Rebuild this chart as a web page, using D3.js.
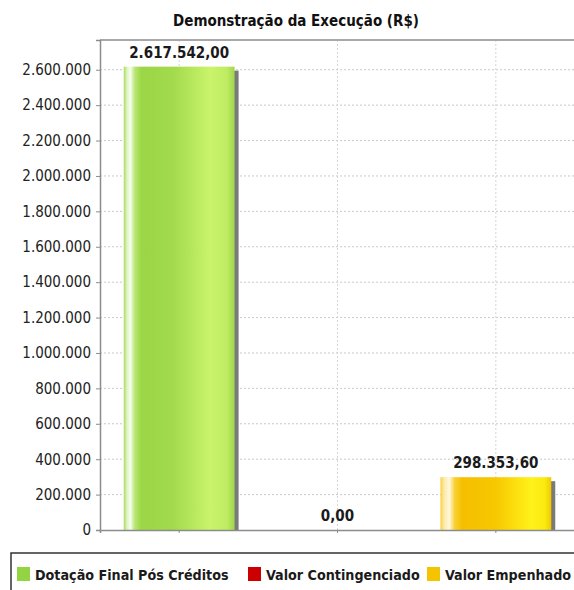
<!DOCTYPE html>
<html lang="pt">
<head>
<meta charset="UTF-8">
<title>Demonstração da Execução</title>
<script src="https://d3js.org/d3.v7.min.js"></script>
<style>
  html, body { margin: 0; background: #fff; }
  svg { display: block; font-family: "DejaVu Sans Condensed", "DejaVu Sans", sans-serif; }
</style>
</head>
<body>
<div id="vis"></div>
<script>
// data
var categories = ["Dotação Final Pós Créditos", "Valor Contingenciado", "Valor Empenhado"];
var values = [2617542.00, 0.00, 298353.60];
var tickValues = [0, 200000, 400000, 600000, 800000, 1000000, 1200000, 1400000,
                  1600000, 1800000, 2000000, 2200000, 2400000, 2600000];
var seriesColors = ["#93d443", "#cc0000", "#f5c400"];

var W = 574, H = 590;
var plot = {left: 100, right: 575, top: 40, bottom: 530};

var br = d3.formatLocale({decimal: ",", thousands: ".", grouping: [3], currency: ["R$", ""]});
var fmtTick = br.format(",.0f");
var fmtVal = br.format(",.2f");

var svg = d3.select("#vis").append("svg")
    .attr("width", W).attr("height", H);

svg.append("rect").attr("width", W).attr("height", H).attr("fill", "#fff");

// gradients (JFreeChart style)
var defs = svg.append("defs");
var gradStops = [
  [[0, "#a9dc5c"], [0.03, "#dff5c4"], [0.06, "#f6fdee"], [0.10, "#b9e672"], [0.16, "#9bd645"],
   [0.45, "#a3da4e"], [0.78, "#c9f46c"], [0.93, "#bfec62"], [1, "#a0d64c"]],
  [[0, "#d83030"], [0.06, "#f8d0d0"], [0.16, "#cc0000"], [0.8, "#ee2020"], [1, "#cc0000"]],
  [[0, "#f8d040"], [0.03, "#fbe9a0"], [0.08, "#fff8e0"], [0.13, "#f8d030"], [0.2, "#f5bf00"],
   [0.5, "#f7c800"], [0.82, "#fff21a"], [0.94, "#faea10"], [1, "#f2c800"]]
];
gradStops.forEach(function(stops, i) {
  var g = defs.append("linearGradient").attr("id", "grad" + i)
      .attr("x1", "0%").attr("x2", "100%").attr("y1", "0%").attr("y2", "0%");
  stops.forEach(function(s) {
    g.append("stop").attr("offset", s[0]).attr("stop-color", s[1]);
  });
});

var x = d3.scaleBand()
    .domain(categories)
    .range([plot.left, plot.right])
    .paddingInner(0.3)
    .paddingOuter(0.15);

var y = d3.scaleLinear()
    .domain([0, 2768000])
    .range([plot.bottom, plot.top]);

// horizontal gridlines
svg.append("g").selectAll("line")
    .data(tickValues.filter(function(d) { return d > 0; }))
    .enter().append("line")
    .attr("x1", plot.left).attr("x2", plot.right)
    .attr("y1", function(d) { return y(d); }).attr("y2", function(d) { return y(d); })
    .attr("stroke", "#c8c8c8").attr("stroke-width", 1)
    .attr("stroke-dasharray", "2,2");

// vertical category gridlines
svg.append("g").selectAll("line")
    .data(categories)
    .enter().append("line")
    .attr("x1", function(d) { return x(d) + x.bandwidth() / 2; })
    .attr("x2", function(d) { return x(d) + x.bandwidth() / 2; })
    .attr("y1", plot.top).attr("y2", plot.bottom)
    .attr("stroke", "#d4d4d4").attr("stroke-width", 1)
    .attr("stroke-dasharray", "2,2");

// plot top outline
svg.append("line")
    .attr("x1", plot.left).attr("x2", plot.right)
    .attr("y1", plot.top).attr("y2", plot.top)
    .attr("stroke", "#a8a8a8").attr("stroke-width", 2);

// bar shadows
svg.append("g").selectAll("rect")
    .data(values)
    .enter().append("rect")
    .attr("x", function(d, i) { return x(categories[i]) + 4; })
    .attr("y", function(d) { return Math.min(y(d) + 4, plot.bottom); })
    .attr("width", x.bandwidth())
    .attr("height", function(d) { return Math.max(0, plot.bottom - y(d) - 4); })
    .attr("fill", "#7a7a7a");

// bars
svg.append("g").selectAll("rect")
    .data(values)
    .enter().append("rect")
    .attr("x", function(d, i) { return x(categories[i]); })
    .attr("y", function(d) { return y(d); })
    .attr("width", x.bandwidth())
    .attr("height", function(d) { return plot.bottom - y(d); })
    .attr("fill", function(d, i) { return "url(#grad" + i + ")"; });

// y axis
var yAxis = svg.append("g")
    .attr("transform", "translate(" + plot.left + ",0)")
    .call(d3.axisLeft(y).tickValues(tickValues).tickFormat(fmtTick).tickSize(4).tickPadding(5));
yAxis.select(".domain").attr("stroke", "#8c8c8c").attr("stroke-width", 1.5);
yAxis.selectAll(".tick line").attr("stroke", "#8c8c8c");
yAxis.selectAll(".tick text")
    .attr("font-family", "DejaVu Sans Condensed")
    .attr("font-size", 15).attr("fill", "#222");

// x axis (no labels)
var xAxis = svg.append("g")
    .attr("transform", "translate(0," + plot.bottom + ")")
    .call(d3.axisBottom(x).tickSize(3).tickFormat(""));
xAxis.select(".domain").attr("stroke", "#8c8c8c").attr("stroke-width", 1.5);
xAxis.selectAll(".tick line").attr("stroke", "#8c8c8c");

// value labels
svg.append("g").selectAll("text")
    .data(values)
    .enter().append("text")
    .attr("x", function(d, i) { return x(categories[i]) + x.bandwidth() / 2; })
    .attr("y", function(d) { return y(d) - 9; })
    .attr("text-anchor", "middle")
    .attr("font-weight", "bold")
    .attr("font-size", 15)
    .attr("fill", "#1a1a1a")
    .text(function(d) { return fmtVal(d); });

// title
svg.append("text")
    .attr("x", 296).attr("y", 26)
    .attr("text-anchor", "middle")
    .attr("font-weight", "bold")
    .attr("font-size", 15)
    .attr("fill", "#111")
    .text("Demonstração da Execução (R$)");

// legend
var legend = svg.append("g");
legend.append("rect")
    .attr("x", 11).attr("y", 553)
    .attr("width", 620).attr("height", 60)
    .attr("fill", "#fff")
    .attr("stroke", "#333").attr("stroke-width", 1.5);

var legendX = [17, 248, 427];
var item = legend.selectAll("g.item")
    .data(categories)
    .enter().append("g")
    .attr("class", "item")
    .attr("transform", function(d, i) { return "translate(" + legendX[i] + ",0)"; });
item.append("rect")
    .attr("x", 0).attr("y", 567)
    .attr("width", 13).attr("height", 14)
    .attr("fill", function(d, i) { return seriesColors[i]; });
item.append("text")
    .attr("x", 18).attr("y", 580)
    .attr("font-weight", "bold")
    .attr("font-size", 14.2)
    .attr("fill", "#1a1a1a")
    .text(function(d) { return d; });
</script>
</body>
</html>
